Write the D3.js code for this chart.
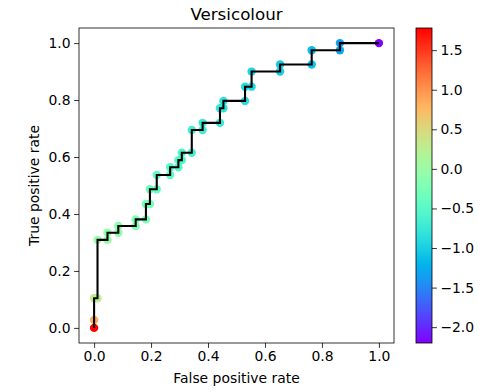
<!DOCTYPE html>
<html>
<head>
<meta charset="utf-8">
<script src="https://cdn.jsdelivr.net/npm/d3@7"></script>
<style>
  body { margin: 0; background: #fff; }
  svg text { font-family: "DejaVu Sans", sans-serif; fill: #000; }
</style>
</head>
<body>
<div id="app"></div>
<script>
// ROC points (false positive rate, true positive rate) and their thresholds
const fpr = [0, 0, 0, 0.012, 0.012, 0.047, 0.047, 0.085, 0.085, 0.146, 0.146, 0.182, 0.182,
  0.196, 0.196, 0.22, 0.22, 0.267, 0.267, 0.296, 0.296, 0.308, 0.308, 0.343, 0.343,
  0.381, 0.381, 0.442, 0.442, 0.454, 0.454, 0.53, 0.53, 0.553, 0.553, 0.653, 0.653,
  0.764, 0.764, 0.863, 0.863, 1];
const tpr = [0, 0.028, 0.104, 0.104, 0.309, 0.309, 0.334, 0.334, 0.358, 0.358, 0.381, 0.381, 0.435,
  0.435, 0.487, 0.487, 0.537, 0.537, 0.564, 0.564, 0.589, 0.589, 0.615, 0.615, 0.695,
  0.695, 0.72, 0.72, 0.771, 0.771, 0.797, 0.797, 0.847, 0.847, 0.9, 0.9, 0.925,
  0.925, 0.975, 0.975, 1, 1];
const thresholds = [1.78, 0.85, 0.35, 0.28, 0.02, -0.02, -0.05, -0.1, -0.12, -0.2, -0.22, -0.27, -0.3,
  -0.32, -0.36, -0.4, -0.43, -0.48, -0.5, -0.53, -0.55, -0.57, -0.6, -0.64, -0.68,
  -0.7, -0.72, -0.76, -0.8, -0.82, -0.84, -0.88, -0.9, -0.93, -0.96, -1.02, -1.05,
  -1.12, -1.15, -1.3, -1.35, -2.2];
const axisTicks = [0, 0.2, 0.4, 0.6, 0.8, 1.0];
const colorTicks = [1.5, 1.0, 0.5, 0.0, -0.5, -1.0, -1.5, -2.0];

const W = 500, H = 392;
const plot = { left: 79, right: 394, top: 28, bottom: 343 };
const cbar = { left: 416, right: 432, top: 28, bottom: 343 };
const fontSize = 13.9;

// matplotlib "rainbow" colormap
function rainbow(t) {
  const r = Math.min(1, Math.abs(2 * t - 0.5));
  const g = Math.sin(Math.PI * t);
  const b = Math.cos(Math.PI * t / 2);
  return d3.rgb(r * 255, g * 255, b * 255).formatHex();
}

const tMin = d3.min(thresholds), tMax = d3.max(thresholds);
const colorNorm = d3.scaleLinear().domain([tMin, tMax]).range([0, 1]);

const svg = d3.select('#app').append('svg')
  .attr('width', W)
  .attr('height', H);

const x = d3.scaleLinear().domain([-0.053, 1.053]).range([plot.left, plot.right]);
const y = d3.scaleLinear().domain([-0.053, 1.053]).range([plot.bottom, plot.top]);

const points = fpr.map((f, i) => ({ f: f, t: tpr[i], th: thresholds[i] }));

// scatter
svg.append('g')
  .selectAll('circle')
  .data(points)
  .join('circle')
  .attr('cx', d => x(d.f))
  .attr('cy', d => y(d.t))
  .attr('r', 4.2)
  .attr('fill', d => rainbow(colorNorm(d.th)));

// curve
const line = d3.line().x(d => x(d.f)).y(d => y(d.t));
svg.append('path')
  .datum(points)
  .attr('d', line)
  .attr('fill', 'none')
  .attr('stroke', '#000')
  .attr('stroke-width', 2.08);

// axes
const xAxis = svg.append('g')
  .attr('transform', `translate(0,${plot.bottom})`)
  .call(d3.axisBottom(x).tickValues(axisTicks).tickFormat(d3.format('.1f'))
    .tickSize(4.9).tickPadding(3.5).tickSizeOuter(0));
const yAxis = svg.append('g')
  .attr('transform', `translate(${plot.left},0)`)
  .call(d3.axisLeft(y).tickValues(axisTicks).tickFormat(d3.format('.1f'))
    .tickSize(4.9).tickPadding(3.5).tickSizeOuter(0));

[xAxis, yAxis].forEach(a => {
  a.select('.domain').remove();
  a.selectAll('line').attr('stroke', '#000').attr('stroke-width', 0.8);
  a.selectAll('text').attr('font-size', fontSize).attr('font-family', '"DejaVu Sans", sans-serif');
});

// frame
svg.append('rect')
  .attr('x', plot.left).attr('y', plot.top)
  .attr('width', plot.right - plot.left).attr('height', plot.bottom - plot.top)
  .attr('fill', 'none').attr('stroke', '#000').attr('stroke-width', 0.8);

// labels
svg.append('text')
  .attr('x', (plot.left + plot.right) / 2).attr('y', 20)
  .attr('text-anchor', 'middle').attr('font-size', 16.7)
  .text('Versicolour');
svg.append('text')
  .attr('x', (plot.left + plot.right) / 2).attr('y', 383)
  .attr('text-anchor', 'middle').attr('font-size', fontSize)
  .text('False positive rate');
svg.append('text')
  .attr('transform', `translate(39,${(plot.top + plot.bottom) / 2}) rotate(-90)`)
  .attr('text-anchor', 'middle').attr('font-size', fontSize)
  .text('True positive rate');

// colorbar
const grad = svg.append('defs').append('linearGradient')
  .attr('id', 'cbgrad')
  .attr('x1', 0).attr('y1', 1).attr('x2', 0).attr('y2', 0);
grad.selectAll('stop')
  .data(d3.range(0, 1.0001, 0.02))
  .join('stop')
  .attr('offset', d => d)
  .attr('stop-color', d => rainbow(d));

svg.append('rect')
  .attr('x', cbar.left).attr('y', cbar.top)
  .attr('width', cbar.right - cbar.left).attr('height', cbar.bottom - cbar.top)
  .attr('fill', 'url(#cbgrad)')
  .attr('stroke', '#000').attr('stroke-width', 0.8);

const cy = d3.scaleLinear().domain([tMin, tMax]).range([cbar.bottom, cbar.top]);
const cAxis = svg.append('g')
  .attr('transform', `translate(${cbar.right},0)`)
  .call(d3.axisRight(cy).tickValues(colorTicks).tickFormat(d3.format('.1f'))
    .tickSize(4.9).tickPadding(3.5).tickSizeOuter(0));
cAxis.select('.domain').remove();
cAxis.selectAll('line').attr('stroke', '#000').attr('stroke-width', 0.8);
cAxis.selectAll('text').attr('font-size', fontSize).attr('font-family', '"DejaVu Sans", sans-serif');
</script>
</body>
</html>
